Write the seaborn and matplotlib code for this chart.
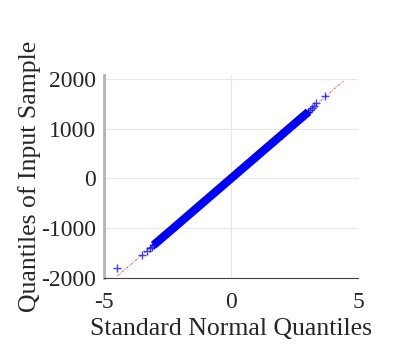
import numpy as np
import pandas as pd
import matplotlib
matplotlib.use('Agg')
import matplotlib.pyplot as plt
import seaborn as sns

# Sample quantiles: dense band along the fit line
band_theoretical = [-3.05, -2.5, -2.0, -1.0, 0.0, 1.0, 2.0, 2.5, 3.05]
band_sample = [-1340, -1100, -880, -440, 0, 440, 880, 1100, 1340]

# Sparse tail points
tail_theoretical = [-4.47, -3.49, -3.30, -3.18, -3.10, 3.10, 3.18, 3.25, 3.33, 3.69]
tail_sample = [-1790, -1530, -1450, -1400, -1370, 1370, 1420, 1450, 1520, 1660]

# Reference line endpoints
ref_theoretical = [-4.47, 4.43]
ref_sample = [-1960, 1960]

x_ticks = [-5, 0, 5]
y_ticks = [-2000, -1000, 0, 1000, 2000]

sns.set_style('white')
plt.rcParams['font.family'] = ['Liberation Serif', 'DejaVu Serif']
plt.rcParams['axes.unicode_minus'] = False

fig = plt.figure(figsize=(4.07, 3.53), dpi=100)
ax = fig.add_axes([0.2555, 0.2125, 0.6241, 0.575])

band = pd.DataFrame({'x': band_theoretical, 'y': band_sample})
tails = pd.DataFrame({'x': tail_theoretical, 'y': tail_sample})
ref = pd.DataFrame({'x': ref_theoretical, 'y': ref_sample})

sns.lineplot(data=ref, x='x', y='y', ax=ax, color='red', lw=0.6,
             linestyle=(0, (3, 1.5, 1, 1.5)), alpha=0.8, zorder=2)
sns.lineplot(data=band, x='x', y='y', ax=ax, color='#0000ff', lw=6,
             solid_capstyle='butt', zorder=3)
ax.scatter(band['x'], band['y'], marker='+', s=40, color='#0000ff', lw=1.0, zorder=3)
ax.scatter(tails['x'], tails['y'], marker='+', s=40, color='#0000ff', lw=1.0,
           alpha=0.75, zorder=3)

ax.set_xlim(-5, 5)
ax.set_ylim(-2000, 2080)
ax.set_xticks(x_ticks)
ax.set_yticks(y_ticks)
ax.grid(True, color='#e6e6e6', lw=0.8)
ax.set_axisbelow(True)

for s in ['top', 'right']:
    ax.spines[s].set_visible(False)
ax.spines['left'].set_color('#b4b4b4')
ax.spines['left'].set_linewidth(2)
ax.spines['bottom'].set_color('#404040')
ax.spines['bottom'].set_linewidth(0.8)
ax.tick_params(direction='in', length=3, width=0.6, color='#404040',
               labelsize=17, labelcolor='#262626')
ax.tick_params(axis='x', pad=10)
ax.tick_params(axis='y', pad=6)

ax.set_xlabel('Standard Normal Quantiles', fontsize=18.5, color='#262626', labelpad=4)
ax.set_ylabel('Quantiles of Input Sample', fontsize=18.5, color='#262626', labelpad=0)

fig.savefig('out.png', dpi=100)
